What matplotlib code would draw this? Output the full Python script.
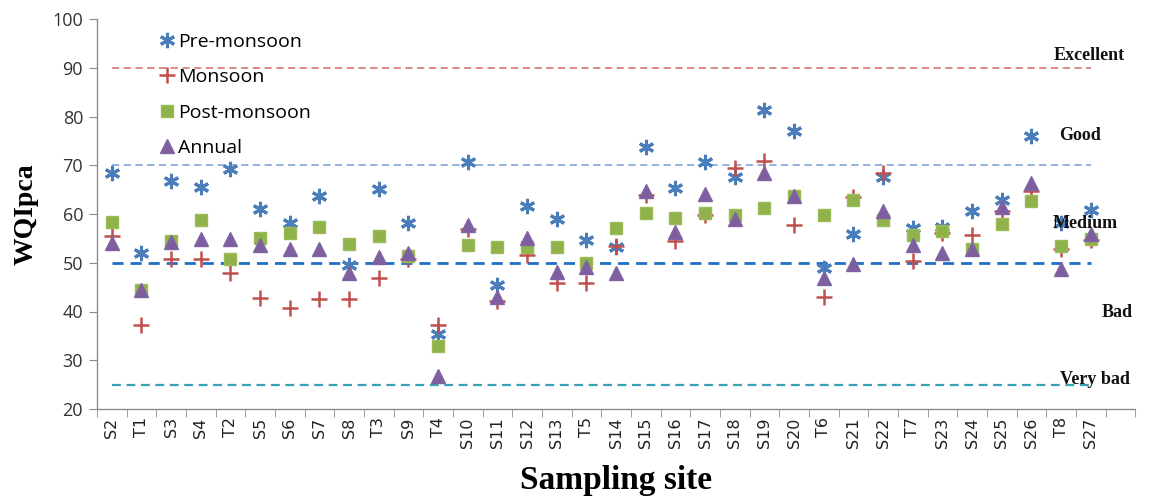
import matplotlib
matplotlib.use("Agg")
import matplotlib.pyplot as plt
import numpy as np

sites = ["S2", "T1", "S3", "S4", "T2", "S5", "S6", "S7", "S8", "T3", "S9", "T4",
         "S10", "S11", "S12", "S13", "T5", "S14", "S15", "S16", "S17", "S18", "S19",
         "S20", "T6", "S21", "S22", "T7", "S23", "S24", "S25", "S26", "T8", "S27"]

pre_monsoon = [68.4, 52.0, 66.7, 65.6, 69.3, 61.1, 58.1, 63.6, 49.5, 65.1, 58.2, 35.3,
               70.6, 45.5, 61.7, 59.0, 54.7, 53.2, 73.8, 65.4, 70.6, 67.5, 81.3,
               77.0, 48.9, 55.8, 67.6, 57.2, 57.4, 60.6, 62.8, 75.9, 58.1, 60.9]
monsoon = [55.4, 37.2, 50.8, 50.8, 47.9, 42.8, 40.8, 42.5, 42.5, 46.8, 50.8, 37.2,
           57.0, 42.2, 51.6, 45.8, 45.8, 53.4, 64.0, 54.4, 59.8, 69.4, 70.8,
           57.8, 43.0, 63.4, 68.4, 50.4, 56.2, 55.6, 60.6, 64.8, 52.8, 54.6]
post_monsoon = [58.3, 44.4, 54.4, 58.7, 50.8, 55.0, 56.2, 57.3, 53.9, 55.4, 51.3, 32.9,
                53.6, 53.2, 53.3, 53.2, 49.9, 57.2, 60.2, 59.1, 60.2, 59.8, 61.3,
                63.6, 59.8, 62.8, 58.8, 55.7, 56.6, 52.9, 57.9, 62.6, 53.5, 54.9]
annual = [54.1, 44.5, 54.3, 54.8, 54.8, 53.7, 52.8, 52.9, 47.8, 51.1, 52.1, 26.8,
          57.8, 43.0, 55.1, 48.2, 49.1, 47.9, 64.8, 56.3, 64.2, 58.9, 68.4,
          63.7, 46.9, 49.8, 60.7, 53.6, 52.1, 52.8, 61.4, 66.3, 48.7, 55.9]

threshold_values = [90, 70, 50, 25]
threshold_colors = ["#d9807e", "#8eaadb", "#1f6fc5", "#3aa0b8"]
threshold_widths = [1.3, 1.3, 2.0, 1.6]
class_labels = ["Excellent", "Good", "Medium", "Bad", "Very bad"]
class_label_y = [92.5, 76.0, 58.0, 39.8, 26.0]
class_label_x = [32.95, 32.65, 32.8, 33.9, 33.15]

fig = plt.figure(figsize=(11.49, 5.0), dpi=100)
ax = fig.add_axes([0.0844, 0.182, 0.9036, 0.780])

x = np.arange(len(sites))

for yv, c, lw in zip(threshold_values, threshold_colors, threshold_widths):
    ax.hlines(yv, 0, len(sites) - 1, colors=c, linestyles=(0, (4, 2.5)), linewidth=lw, zorder=1)

ax.plot(x, pre_monsoon, linestyle="none", marker=(6, 2, 0), markersize=11,
        markeredgewidth=2.2, color="#4a7ebb", markeredgecolor="#4a7ebb",
        label="Pre-monsoon", zorder=3)
ax.plot(x, monsoon, linestyle="none", marker="+", markersize=11,
        markeredgewidth=1.8, color="#c0504d", label="Monsoon", zorder=4)
ax.plot(x, post_monsoon, linestyle="none", marker="s", markersize=8.5,
        color="#8fb34a", markeredgecolor="#9bbb59", label="Post-monsoon", zorder=5)
ax.plot(x, annual, linestyle="none", marker="^", markersize=10.5,
        color="#7d5fa0", markeredgecolor="#8064a2", label="Annual", zorder=6)

for lab, xv, yv in zip(class_labels, class_label_x, class_label_y):
    ax.text(xv, yv, lab, fontsize=13, fontweight="bold", family="Liberation Serif",
            ha="center", va="center", color="#111111", zorder=7)

ax.set_xlim(-0.5, len(sites) + 0.5)
ax.set_ylim(20, 100)
ax.set_yticks(np.arange(20, 101, 10))
ax.set_xticks(x)
ax.set_xticklabels(sites, rotation=90, fontsize=11.5, family="DejaVu Sans", color="#222222")
ax.set_xticks(np.arange(-0.5, len(sites) + 1, 1.0), minor=True)
ax.tick_params(axis="x", which="major", length=0, pad=6)
ax.tick_params(axis="x", which="minor", length=6, color="#8c8c8c", direction="out")
ax.tick_params(axis="y", length=6, color="#8c8c8c", direction="out", labelsize=13,
               labelcolor="#333333", pad=4)
for lbl in ax.get_yticklabels():
    lbl.set_family("Open Sans")

for s in ["top", "right"]:
    ax.spines[s].set_visible(False)
for s in ["left", "bottom"]:
    ax.spines[s].set_color("#8c8c8c")
    ax.spines[s].set_linewidth(1.0)

ax.set_ylabel("WQIpca", fontsize=20, fontweight="bold", family="Liberation Serif", labelpad=10)
ax.set_xlabel("Sampling site", fontsize=24, fontweight="bold", family="Liberation Serif", labelpad=12)

leg = ax.legend(loc="upper left", bbox_to_anchor=(0.045, 1.005), frameon=False,
                prop={"family": "Open Sans", "size": 14}, labelspacing=0.9,
                handlelength=0.8, handletextpad=0.15, borderpad=0.3)

fig.savefig("out.png", dpi=100)
